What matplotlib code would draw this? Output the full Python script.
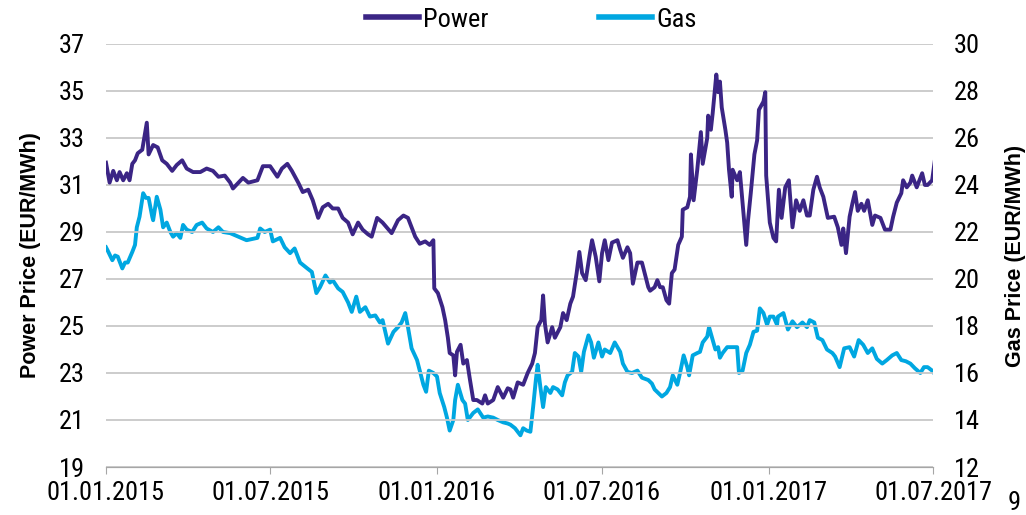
import pandas as pd
import matplotlib
matplotlib.use("Agg")
from matplotlib import pyplot as plt
import matplotlib.dates as mdates

# day offsets from 01.01.2015 and prices
power_days = [0, 4, 8, 12, 15, 19, 23, 26, 29, 32, 35, 40, 45, 47, 52, 57, 62, 67, 73, 78,
              84, 89, 96, 104, 111, 118, 124, 131, 137, 140, 151, 157, 167, 173, 181, 189, 194, 200, 205, 212,
              217, 223, 228, 234, 239, 245, 250, 256, 261, 267, 272, 278, 283, 289, 293, 299, 305, 315, 322, 328,
              333, 341, 346, 352, 357, 361, 362, 366, 371, 374, 377, 379, 383, 385, 387, 391, 394, 398, 401, 405,
              409, 415, 418, 421, 427, 432, 438, 443, 446, 449, 454, 460, 465, 470, 473, 476, 480, 482, 484, 487,
              492, 495, 501, 504, 508, 512, 515, 519, 522, 525, 529, 533, 536, 540, 544, 547, 550, 554, 558, 564,
              567, 570, 575, 578, 581, 586, 591, 598, 600, 605, 608, 611, 614, 618, 621, 624, 627, 631, 635, 636,
              641, 644, 645, 648, 652, 656, 658, 663, 664, 667, 669, 673, 675, 677, 679, 683, 685, 687, 690, 691,
              696, 699, 702, 706, 708, 711, 715, 718, 720, 725, 727, 728, 732, 736, 739, 742, 745, 749, 753, 757,
              761, 765, 769, 773, 776, 780, 784, 787, 791, 796, 803, 807, 811, 813, 816, 820, 823, 826, 829, 833,
              836, 840, 845, 848, 854, 859, 865, 868, 872, 877, 879, 883, 887, 889, 894, 900, 903, 906, 911, 914]
power_vals = [31.95, 31.1, 31.6, 31.2, 31.55, 31.2, 31.5, 31.2, 31.9, 32.05, 32.35, 32.5, 33.65, 32.3, 32.7, 32.6, 32.05, 31.9, 31.6, 31.85,
              32.05, 31.7, 31.55, 31.55, 31.7, 31.6, 31.35, 31.4, 31.1, 30.85, 31.3, 31.1, 31.2, 31.8, 31.8, 31.35, 31.7, 31.9, 31.6, 31.1,
              30.7, 30.8, 30.35, 29.6, 30.05, 30.2, 30.0, 30.0, 29.6, 29.4, 28.9, 29.4, 29.1, 28.9, 28.8, 29.6, 29.4, 28.95, 29.5, 29.7,
              29.6, 28.8, 28.5, 28.6, 28.45, 28.65, 26.6, 26.4, 25.8, 25.25, 24.5, 23.85, 23.75, 22.9, 23.9, 24.2, 23.4, 23.55, 22.8, 21.85,
              21.85, 21.7, 22.05, 21.7, 21.85, 22.4, 21.95, 22.35, 22.3, 21.95, 22.6, 22.5, 23.0, 23.4, 23.85, 24.95, 25.25, 26.3, 25.1, 24.3,
              24.95, 24.5, 24.95, 25.55, 25.25, 25.95, 26.25, 27.25, 28.15, 27.25, 26.95, 27.95, 28.65, 27.95, 26.9, 28.1, 28.65, 27.8, 28.55, 28.65,
              28.25, 27.9, 28.35, 28.1, 26.8, 27.7, 27.7, 26.65, 26.5, 26.65, 26.95, 26.65, 26.65, 26.1, 25.95, 27.25, 27.4, 28.45, 28.8, 29.95,
              30.05, 30.5, 32.3, 30.35, 31.65, 33.25, 31.9, 33.0, 33.95, 33.35, 34.05, 35.7, 34.95, 35.4, 34.3, 33.35, 32.8, 31.65, 30.5, 31.65,
              31.2, 31.55, 30.2, 28.45, 29.5, 30.65, 32.3, 32.9, 34.2, 34.55, 34.95, 31.4, 29.4, 28.75, 28.6, 30.8, 29.6, 30.9, 31.2, 29.2,
              30.35, 29.9, 30.35, 29.7, 29.7, 30.8, 31.35, 30.9, 30.5, 29.6, 29.65, 29.2, 28.45, 29.15, 28.1, 29.65, 30.2, 30.7, 29.9, 30.2,
              29.9, 30.35, 29.3, 29.7, 29.6, 29.1, 29.1, 29.65, 30.25, 30.65, 31.2, 30.9, 31.1, 31.4, 30.9, 31.5, 31.0, 31.0, 31.2, 32.05]

gas_days = [0, 2, 7, 10, 13, 18, 21, 24, 29, 32, 34, 37, 41, 44, 47, 51, 52, 56, 60, 63,
            67, 71, 74, 78, 82, 85, 89, 95, 100, 106, 111, 118, 124, 129, 137, 146, 155, 167, 170, 175,
            181, 184, 192, 197, 203, 208, 214, 222, 227, 232, 236, 242, 247, 250, 256, 261, 267, 271, 276, 280,
            286, 291, 297, 302, 305, 311, 317, 322, 326, 330, 333, 337, 343, 346, 350, 353, 356, 361, 365, 368,
            373, 376, 379, 383, 385, 388, 393, 396, 399, 405, 410, 416, 421, 427, 432, 438, 443, 446, 451, 457,
            460, 464, 468, 471, 474, 476, 479, 482, 485, 490, 493, 498, 503, 506, 509, 514, 517, 521, 524, 527,
            532, 535, 538, 543, 547, 550, 556, 561, 567, 570, 575, 580, 586, 591, 598, 602, 605, 609, 613, 618,
            622, 625, 630, 633, 637, 641, 643, 647, 652, 655, 658, 663, 665, 668, 672, 675, 677, 680, 685, 690,
            696, 698, 702, 706, 710, 714, 718, 721, 725, 729, 732, 736, 740, 741, 747, 752, 757, 762, 768, 773,
            776, 781, 785, 790, 795, 801, 804, 809, 814, 820, 825, 830, 835, 840, 845, 850, 856, 861, 867, 872,
            877, 882, 887, 892, 898, 902, 906, 911, 914]
gas_vals = [21.35, 21.2, 20.8, 21.0, 20.95, 20.45, 20.7, 20.7, 21.15, 21.45, 22.2, 22.65, 23.65, 23.45, 23.45, 22.65, 22.5, 23.5, 22.95, 22.2,
            22.4, 22.0, 21.8, 21.95, 21.75, 22.3, 22.1, 22.0, 22.3, 22.4, 22.15, 22.0, 22.2, 22.0, 21.95, 21.8, 21.65, 21.75, 22.15, 22.0,
            22.1, 21.6, 21.75, 21.35, 21.1, 21.3, 20.7, 20.45, 20.3, 19.4, 19.65, 20.15, 19.85, 19.95, 19.6, 19.45, 19.0, 18.6, 19.25, 18.6,
            18.8, 18.4, 18.45, 18.15, 18.25, 17.25, 17.75, 17.95, 18.15, 18.55, 17.95, 17.05, 16.55, 16.1, 15.5, 15.2, 16.1, 16.0, 15.85, 15.15,
            14.55, 14.1, 13.55, 14.0, 14.85, 15.5, 14.85, 14.7, 14.0, 14.3, 14.45, 14.1, 14.15, 14.1, 14.0, 13.9, 13.85, 13.8, 13.65, 13.35,
            13.65, 13.55, 13.5, 14.55, 15.7, 16.35, 15.4, 14.55, 15.4, 15.15, 15.4, 15.3, 15.05, 15.6, 15.9, 16.05, 16.85, 16.7, 16.05, 16.9,
            17.6, 17.3, 16.65, 17.3, 16.7, 17.0, 16.85, 17.3, 16.9, 16.4, 16.05, 16.0, 16.1, 15.8, 15.7, 15.55, 15.3, 15.15, 15.0, 15.15,
            15.4, 15.9, 15.5, 16.0, 16.75, 16.25, 15.9, 16.75, 16.85, 16.9, 17.3, 17.55, 17.95, 17.55, 17.0, 17.1, 16.65, 16.85, 17.1, 17.1,
            17.1, 16.0, 16.1, 16.85, 17.2, 17.75, 17.8, 18.75, 18.55, 18.05, 18.4, 18.4, 18.05, 18.4, 18.55, 17.85, 18.2, 17.95, 18.15, 17.95,
            18.25, 18.15, 17.5, 17.4, 17.0, 16.85, 16.7, 16.25, 17.05, 17.1, 16.7, 17.4, 17.2, 16.85, 17.05, 16.6, 16.4, 16.55, 16.75, 16.85,
            16.55, 16.5, 16.4, 16.2, 16.0, 16.25, 16.25, 16.1, 15.95]

tick_dates = ["2015-01-01", "2015-07-01", "2016-01-01", "2016-07-01", "2017-01-01", "2017-07-01"]
power_ticks = [19, 21, 23, 25, 27, 29, 31, 33, 35, 37]
gas_ticks = [12, 14, 16, 18, 20, 22, 24, 26, 28, 30]

start = pd.Timestamp("2015-01-01")
power_dates = start + pd.to_timedelta(power_days, unit="D")
gas_dates = start + pd.to_timedelta(gas_days, unit="D")
ticks = pd.to_datetime(tick_dates)

plt.rcParams["font.family"] = ["Roboto Condensed", "DejaVu Sans"]
LABEL_FONT = ["Liberation Sans", "DejaVu Sans"]
FS = 19

POWER_COLOR = "#3B2585"
GAS_COLOR = "#00A7E1"
GRID_COLOR = "#C8C8C8"

fig = plt.figure(figsize=(10.26, 5.15), dpi=100)
ax = fig.add_axes([0.1033, 0.0932, 0.8061, 0.8214])
ax2 = ax.twinx()

ax.plot(power_dates, power_vals, color=POWER_COLOR, linewidth=2.8, label="Power", zorder=3)
ax2.plot(gas_dates, gas_vals, color=GAS_COLOR, linewidth=2.8, label="Gas", zorder=3)

ax.set_xlim(ticks[0], ticks[-1])
ax.set_ylim(19, 37)
ax2.set_ylim(12, 30)
ax.set_yticks(power_ticks)
ax2.set_yticks(gas_ticks)
ax.set_xticks(ticks)
ax.xaxis.set_major_formatter(mdates.DateFormatter("%d.%m.%Y"))

for a in (ax, ax2):
    for s in ("top", "left", "right"):
        a.spines[s].set_visible(False)
    a.spines["bottom"].set_color("#A6A6A6")
    a.tick_params(axis="y", length=0, labelsize=FS, pad=15)
ax.tick_params(axis="x", direction="out", length=5, color="#A6A6A6", labelsize=FS, pad=5)

ax.grid(axis="y", color=GRID_COLOR, linewidth=1.3)
ax.set_axisbelow(True)
ax2.set_zorder(ax.get_zorder() - 1)
ax.patch.set_visible(False)

ax.set_ylabel("Power Price (EUR/MWh)", fontsize=15.5, fontweight="bold",
              family=LABEL_FONT, labelpad=13)
ax2.set_ylabel("Gas Price (EUR/MWh)", fontsize=15.5, fontweight="bold",
               family=LABEL_FONT, rotation=90, labelpad=18)

h1, l1 = ax.get_legend_handles_labels()
h2, l2 = ax2.get_legend_handles_labels()
leg = fig.legend(h1 + h2, l1 + l2, loc="center", bbox_to_anchor=(0.518, 0.962), ncol=2,
                 frameon=False, fontsize=FS, handlelength=2.0, handletextpad=0.15,
                 columnspacing=4.2)
for line in leg.get_lines():
    line.set_linewidth(4)

fig.text(0.988, 0.0, "9", fontsize=FS, ha="center", va="bottom")

fig.savefig("out.png", dpi=100)
